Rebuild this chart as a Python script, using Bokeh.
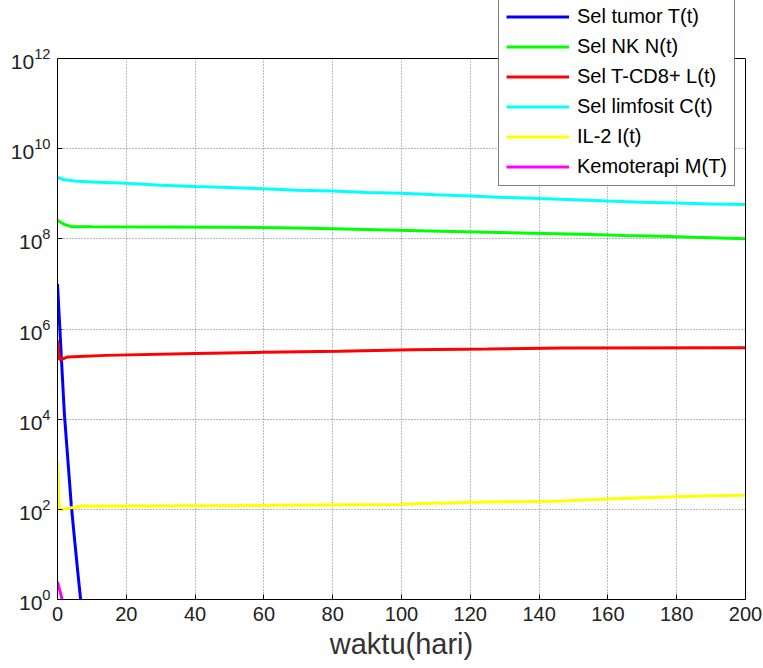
from bokeh.plotting import figure
from bokeh.models import (Range1d, FixedTicker, Legend, LegendItem, LogTickFormatter, LogAxis,
                          Span, BoxAnnotation)
from bokeh.embed import file_html
from bokeh.resources import INLINE

# ---- data ----
t_T = [0, 1, 2, 3, 4, 5, 6, 7, 8]
T_vals = [1.0e7, 3.5e5, 1.3e4, 1.3e3, 1.25e2, 20, 3.4, 0.63, 0.1]

t_N = [0, 1, 2, 4, 10, 30, 50, 65, 80, 93, 105, 115, 125, 135, 145, 155, 165, 175, 185, 200]
N_vals = [2.57e8, 2.3e8, 2.1e8, 1.86e8, 1.85e8, 1.84e8, 1.81e8, 1.76e8, 1.68e8, 1.6e8,
          1.52e8, 1.46e8, 1.40e8, 1.35e8, 1.30e8, 1.25e8, 1.19e8, 1.14e8, 1.08e8, 1.01e8]

t_L = [0, 0.6, 1, 3, 14, 40, 60, 82, 103, 125, 147, 200]
L_vals = [5.6e5, 2.1e5, 2.1e5, 2.4e5, 2.6e5, 2.85e5, 3.05e5, 3.2e5, 3.45e5, 3.6e5, 3.8e5, 3.85e5]

t_C = [0, 2, 5, 10, 20, 30, 40, 50, 60, 70, 80, 90, 100, 110, 120, 130, 140, 150, 160, 170, 180, 190, 200]
C_vals = [2.29e9, 2.04e9, 1.91e9, 1.82e9, 1.70e9, 1.55e9, 1.45e9, 1.38e9, 1.29e9, 1.20e9, 1.15e9,
          1.07e9, 1.02e9, 9.5e8, 8.9e8, 8.3e8, 7.8e8, 7.4e8, 6.9e8, 6.5e8, 6.2e8, 5.9e8, 5.75e8]

t_I = [0, 0.5, 1, 7, 40, 75, 100, 105, 125, 145, 160, 175, 190, 200]
I_vals = [1.12e3, 100, 100, 117, 120, 124, 128, 135, 145, 152, 170, 186, 200, 205]

t_M = [0, 1, 2, 3]
M_vals = [2.45, 1.26, 0.65, 0.3]

labels = ["Sel tumor T(t)", "Sel NK N(t)", "Sel T-CD8+ L(t)", "Sel limfosit C(t)", "IL-2 I(t)", "Kemoterapi M(T)"]
colors = ["#0000ff", "#00ff00", "#ff0000", "#00ffff", "#ffff00", "#ff00ff"]

x_ticks = list(range(0, 201, 20))
y_ticks = [1e0, 1e2, 1e4, 1e6, 1e8, 1e10, 1e12]
x_min, x_max = 0, 200
y_min, y_max = 1e0, 1e12

FONT = "Liberation Sans"

# frame spans the full window height so the legend can rise above the axes box;
# the axes box itself ends at y_max (58 px from the top)
FRAME_H = 599
BOX_H = 541
y_top = 10 ** (12 * FRAME_H / BOX_H)

p = figure(width=763, height=668, output_backend="svg", toolbar_location=None,
           y_axis_type="log", x_range=Range1d(x_min, x_max), y_range=Range1d(y_min, y_top),
           min_border_left=57, min_border_right=18, min_border_top=0, min_border_bottom=69)
p.background_fill_color = "white"
p.border_fill_color = "white"
p.outline_line_color = None

series = [(t_T, T_vals), (t_N, N_vals), (t_L, L_vals), (t_C, C_vals), (t_I, I_vals), (t_M, M_vals)]
renderers = []
for (tx, vy), c in zip(series, colors):
    r = p.line(tx, vy, line_color=c, line_width=3)
    renderers.append(r)

# axes
xa = p.xaxis[0]
xa.ticker = FixedTicker(ticks=x_ticks, minor_ticks=[])
ya = p.yaxis[0]
ya.ticker = FixedTicker(ticks=y_ticks, minor_ticks=[])
ya.formatter = LogTickFormatter()
ya.bounds = (y_min, y_max)
for ax in (xa, ya):
    ax.major_tick_in = 5
    ax.major_tick_out = 0
    ax.minor_tick_line_color = None
    ax.axis_line_color = "black"
    ax.major_tick_line_color = "black"
    ax.major_label_text_font = FONT
    ax.major_label_text_color = "#222222"
xa.major_label_text_font_size = "20px"
xa.major_label_standoff = 7
ya.major_label_text_font_size = "21px"
ya.major_label_standoff = 7
xa.axis_label = "waktu(hari)"
xa.axis_label_text_font = FONT
xa.axis_label_text_font_size = "29px"
xa.axis_label_text_font_style = "normal"
xa.axis_label_text_color = "#333333"
xa.axis_label_standoff = 4

# right border of the axes box
right = LogAxis(ticker=FixedTicker(ticks=[], minor_ticks=[]), bounds=(y_min, y_max),
                axis_line_color="black", major_tick_line_color=None, minor_tick_line_color=None)
p.add_layout(right, "right")

# grid
for g in (p.xgrid[0], p.ygrid[0]):
    g.grid_line_color = "#606060"
    g.grid_line_dash = "1 2"
    g.grid_line_width = 1
    g.grid_line_alpha = 0.85
p.ygrid[0].ticker = FixedTicker(ticks=y_ticks, minor_ticks=[])
p.xgrid[0].ticker = FixedTicker(ticks=x_ticks, minor_ticks=[])

# blank the area above the axes box, then draw the box's top edge
p.add_layout(BoxAnnotation(bottom=y_max, fill_color="white", fill_alpha=1.0, line_color=None))
p.add_layout(Span(location=y_max, dimension="width", line_color="black", line_width=1))

legend = Legend(items=[LegendItem(label=l, renderers=[r]) for l, r in zip(labels, renderers)],
                location=(441, 413))
legend.label_text_font = FONT
legend.label_text_font_size = "20px"
legend.label_text_color = "black"
legend.glyph_width = 63
legend.glyph_height = 21
legend.label_height = 21
legend.label_standoff = 8
legend.spacing = 7
legend.padding = 7
legend.margin = 0
legend.border_line_color = "black"
legend.border_line_width = 1
legend.background_fill_color = "white"
legend.background_fill_alpha = 1.0
p.add_layout(legend, "center")

open("out.html", "w").write(file_html(p, INLINE))
